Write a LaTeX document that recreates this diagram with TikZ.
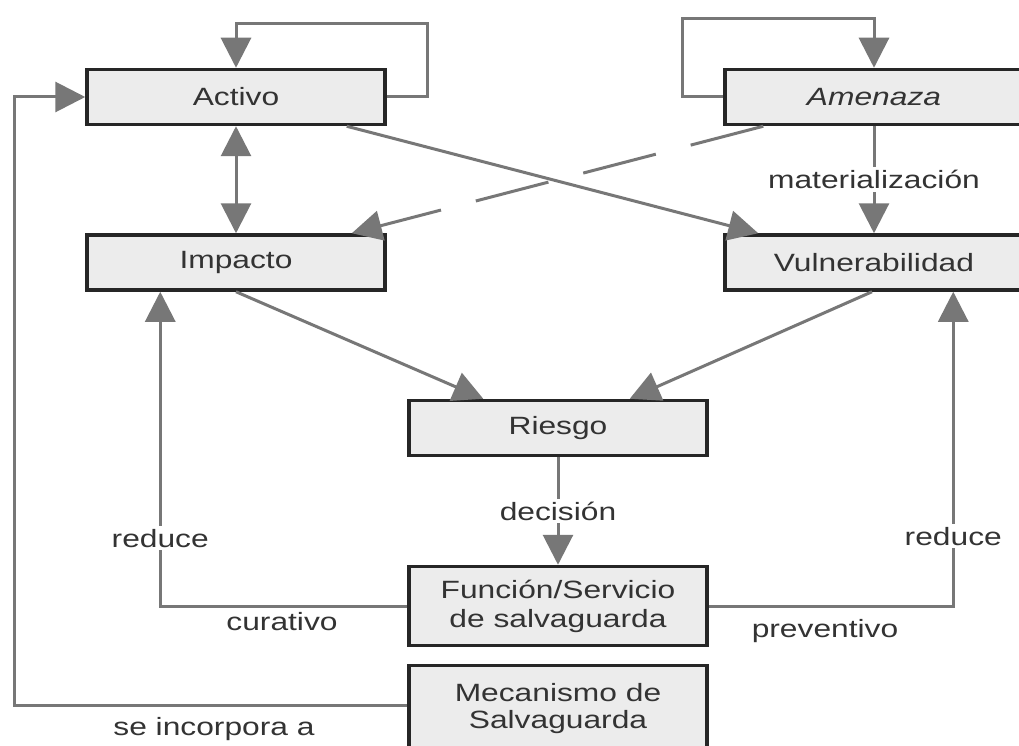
\documentclass[tikz,border=0pt]{standalone}
\usepackage{fontspec}
\setmainfont[FakeStretch=1.27]{Liberation Sans}
\usetikzlibrary{arrows.meta,calc}

\definecolor{linegray}{HTML}{777777}
\definecolor{boxfill}{HTML}{ECECEC}
\definecolor{boxline}{HTML}{262626}
\definecolor{txt}{HTML}{333333}

\begin{document}
\begin{tikzpicture}[x=1pt,y=-1pt,
  box/.style={draw=boxline, line width=3.5pt, fill=boxfill,
    minimum width=298pt, minimum height=55pt, inner sep=0pt,
    text=txt, align=center, font=\fontsize{25}{29}\selectfont},
  tallbox/.style={box, minimum height=79pt},
  conn/.style={draw=linegray, line width=3pt},
  tip/.tip={Triangle[length=30pt,width=30pt]},
  arr/.style={conn, -tip},
  lbl/.style={text=txt, inner sep=3pt, font=\fontsize{25}{29}\selectfont},
  lblw/.style={lbl, fill=white}]

\useasboundingbox (0,0) rectangle (1019,746);
\clip (0,0) rectangle (1019,746);
\fill[white] (0,0) rectangle (1019,746);

% boxes
\node[box] (activo) at (236,97) {Activo};
\node[box] (impacto) at (236,262.5) {Impacto};
\node[box] (amenaza) at (874,97) {\itshape Amenaza};
\node[box] (vuln) at (874,262.5) {Vulnerabilidad};
\node[box] (riesgo) at (558,428) {Riesgo};
\node[tallbox] (funcion) at (558,606) {Función/Servicio\\de salvaguarda};
% the lower box runs past the bottom edge of the page
\node[tallbox, minimum height=87pt, font=\fontsize{25}{27}\selectfont] (mecanismo) at (558,709) {Mecanismo de\\Salvaguarda};

% self loops
\draw[arr] (activo.east) -- ++(41,0) |- ($(activo.north)+(0,-44)$) -- (activo.north);
\draw[arr] (amenaza.west) -- ++(-41,0) |- ($(amenaza.north)+(0,-49)$) -- (amenaza.north);

% upper links
\draw[conn, tip-tip] (activo.south) -- (impacto.north);
\draw[arr] (amenaza.south) -- node[lblw] (mat) {materialización} (vuln.north);
\draw[arr] ($(activo.south east)+(-40,0)$) -- ($(vuln.north west)+(35,0)$);
\draw[arr, dash pattern=on 75pt off 36pt] ($(amenaza.south west)+(40,0)$) -- ($(impacto.north east)+(-35,0)$);

% towards risk
\draw[arr] (impacto.south) -- ($(riesgo.north west)+(76,0)$);
\draw[arr] ($(vuln.south)+(-2,0)$) -- ($(riesgo.north east)+(-79,0)$);
\draw[arr] (riesgo.south) -- node[lblw] (dec) {decisión} (funcion.north);

% safeguard feedback
\draw[arr] (funcion.west) -| node[lblw, pos=0.608] (redl) {reduce} ($(impacto.south west)+(75,0)$);
\draw[arr] (funcion.east) -| node[lblw, pos=0.611] (redr) {reduce} ($(vuln.south west)+(230,0)$);
\draw[arr] ($(mecanismo.west)+(0,-4)$) -- ++(-393,0) |- (activo.west);

% free labels
\node[lbl, anchor=base] (cur) at (282,630) {curativo};
\node[lbl, anchor=base] (prev) at (825,637) {preventivo};
\node[lbl, anchor=base] (inc) at (214,735) {se incorpora a};
\end{tikzpicture}
\end{document}
